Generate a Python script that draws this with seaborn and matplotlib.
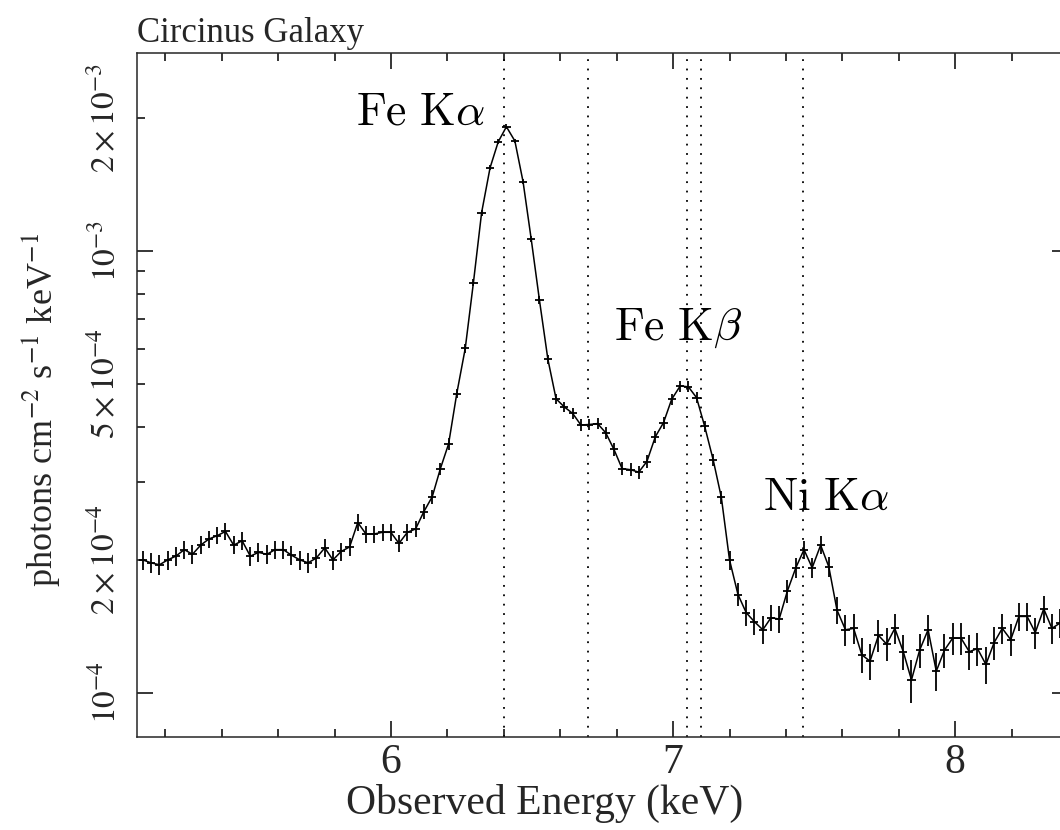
import numpy as np
import pandas as pd
import matplotlib
matplotlib.use("Agg")
import matplotlib.pyplot as plt
import seaborn as sns
from matplotlib.ticker import FixedLocator, FuncFormatter, NullFormatter

# ---------------- data (flux in units of 1e-4 photons cm^-2 s^-1 keV^-1) ----------------
energy = [5.120, 5.149, 5.179, 5.208, 5.237, 5.267, 5.296, 5.325, 5.354, 5.384,
          5.413, 5.442, 5.472, 5.501, 5.530, 5.560, 5.589, 5.618, 5.647, 5.677,
          5.706, 5.735, 5.765, 5.794, 5.823, 5.853, 5.882, 5.911, 5.940, 5.970,
          5.999, 6.028, 6.058, 6.087, 6.116, 6.146, 6.175, 6.204, 6.233, 6.263,
          6.292, 6.321, 6.351, 6.380, 6.409, 6.439, 6.468, 6.497, 6.526, 6.556,
          6.585, 6.614, 6.644, 6.673, 6.702, 6.732, 6.761, 6.790, 6.819, 6.849,
          6.878, 6.907, 6.937, 6.966, 6.995, 7.025, 7.054, 7.083, 7.112, 7.142,
          7.171, 7.200, 7.230, 7.259, 7.288, 7.318, 7.347, 7.376, 7.405, 7.435,
          7.464, 7.493, 7.523, 7.552, 7.581, 7.611, 7.640, 7.669, 7.698, 7.728,
          7.757, 7.786, 7.816, 7.845, 7.874, 7.904, 7.933, 7.962, 7.991, 8.021,
          8.050, 8.079, 8.109, 8.138, 8.167, 8.197, 8.226, 8.255, 8.284, 8.314,
          8.343, 8.372]

flux = [2.00, 1.97, 1.95, 2.00, 2.04, 2.11, 2.06, 2.16, 2.23, 2.27,
        2.32, 2.16, 2.21, 2.04, 2.08, 2.06, 2.11, 2.11, 2.05, 2.00,
        1.97, 2.02, 2.13, 2.00, 2.09, 2.14, 2.43, 2.29, 2.29, 2.31,
        2.31, 2.18, 2.31, 2.35, 2.57, 2.78, 3.22, 3.66, 4.76, 6.02,
        8.48, 12.21, 15.43, 17.67, 19.11, 17.74, 14.35, 10.63, 7.75, 5.69,
        4.63, 4.44, 4.29, 4.04, 4.05, 4.07, 3.88, 3.56, 3.22, 3.20,
        3.16, 3.34, 3.80, 4.09, 4.62, 4.95, 4.93, 4.66, 4.01, 3.37,
        2.77, 2.00, 1.67, 1.52, 1.45, 1.39, 1.48, 1.47, 1.70, 1.92,
        2.11, 1.92, 2.16, 1.93, 1.54, 1.39, 1.40, 1.22, 1.18, 1.35,
        1.29, 1.40, 1.24, 1.07, 1.25, 1.39, 1.12, 1.25, 1.33, 1.33,
        1.24, 1.26, 1.16, 1.30, 1.40, 1.32, 1.49, 1.49, 1.37, 1.55,
        1.40, 1.44]

flux_err = [0.10, 0.10, 0.10, 0.10, 0.10, 0.10, 0.10, 0.10, 0.10, 0.10,
            0.10, 0.10, 0.10, 0.10, 0.10, 0.10, 0.10, 0.10, 0.10, 0.10,
            0.10, 0.10, 0.10, 0.10, 0.10, 0.10, 0.11, 0.10, 0.10, 0.10,
            0.10, 0.10, 0.10, 0.10, 0.10, 0.10, 0.10, 0.11, 0.12, 0.13,
            0.15, 0.18, 0.20, 0.22, 0.23, 0.22, 0.20, 0.17, 0.15, 0.13,
            0.12, 0.12, 0.12, 0.12, 0.12, 0.12, 0.12, 0.12, 0.11, 0.11,
            0.11, 0.11, 0.12, 0.13, 0.13, 0.14, 0.14, 0.13, 0.12, 0.11,
            0.10, 0.10, 0.10, 0.10, 0.10, 0.10, 0.10, 0.10, 0.10, 0.10,
            0.10, 0.10, 0.10, 0.10, 0.11, 0.11, 0.11, 0.11, 0.11, 0.11,
            0.11, 0.11, 0.11, 0.12, 0.11, 0.11, 0.11, 0.11, 0.11, 0.11,
            0.11, 0.11, 0.11, 0.11, 0.11, 0.11, 0.11, 0.11, 0.11, 0.11,
            0.11, 0.11]

bin_half_width = 0.0146
line_energies = [6.40, 6.70, 7.05, 7.10, 7.46]
line_labels = [r"$\mathrm{Fe\ K}\alpha$", r"$\mathrm{Fe\ K}\beta$", r"$\mathrm{Ni\ K}\alpha$"]
label_x = [6.105, 7.018, 7.543]
label_y = [1.93e-3, 6.29e-4, 2.59e-4]

xtick_major = [6, 7, 8]
ytick_major = [1e-4, 1e-3]
ytick_minor = [2e-4, 3e-4, 4e-4, 5e-4, 6e-4, 7e-4, 8e-4, 9e-4, 2e-3]
ytick_text = {1e-4: r"$10^{-4}$", 2e-4: r"$2\times10^{-4}$", 5e-4: r"$5\times10^{-4}$",
              1e-3: r"$10^{-3}$", 2e-3: r"$2\times10^{-3}$"}

title_text = "Circinus Galaxy"
xlabel_text = "Observed Energy (keV)"
ylabel_text = r"photons cm$^{-2}$ s$^{-1}$ keV$^{-1}$"

# ---------------- style ----------------
sns.set_theme(style="ticks")
plt.rcParams["font.family"] = ["Liberation Serif", "DejaVu Serif"]
plt.rcParams["mathtext.fontset"] = "stix"
plt.rcParams["axes.linewidth"] = 1.1

df = pd.DataFrame({"energy": energy,
                   "flux": np.array(flux) * 1e-4,
                   "err": np.array(flux_err) * 1e-4})

W, H = 1060, 830
fig = plt.figure(figsize=(W / 100, H / 100), dpi=100)
left_px, right_px, top_px, bot_px = 137.2, 1068.0, 53.0, 737.0
ax = fig.add_axes([left_px / W, 1 - bot_px / H, (right_px - left_px) / W, (bot_px - top_px) / H])

sns.lineplot(data=df, x="energy", y="flux", ax=ax, color="black", linewidth=1.1,
             estimator=None, sort=False)
ax.errorbar(df["energy"], df["flux"], xerr=bin_half_width, yerr=df["err"], fmt="none",
            ecolor="black", elinewidth=1.3, capsize=0)

for e in line_energies:
    ax.axvline(e, color="black", linewidth=1.3, linestyle=(0, (1, 4.2)), zorder=1)

for t, x, y in zip(line_labels, label_x, label_y):
    ax.text(x, y, t, ha="center", va="baseline", fontsize=33, color="black",
            math_fontfamily="cm")

ax.set_yscale("log")
ax.set_xlim(5.1, 8.4)
ax.set_ylim(7.95e-5, 2.806e-3)

ax.xaxis.set_major_locator(FixedLocator(xtick_major))
ax.xaxis.set_minor_locator(FixedLocator([5.2, 5.4, 5.6, 5.8, 6.2, 6.4, 6.6, 6.8,
                                         7.2, 7.4, 7.6, 7.8, 8.2]))
ax.yaxis.set_major_locator(FixedLocator(ytick_major))
ax.yaxis.set_minor_locator(FixedLocator(ytick_minor))
fmt = FuncFormatter(lambda v, p: next((s for k, s in ytick_text.items() if abs(v - k) / k < 1e-6), ""))
ax.yaxis.set_major_formatter(fmt)
ax.yaxis.set_minor_formatter(fmt)
ax.xaxis.set_minor_formatter(NullFormatter())

ax.tick_params(axis="both", which="both", direction="in", top=True, right=True,
               color="black", width=1.1)
ax.tick_params(axis="both", which="major", length=11.5)
ax.tick_params(axis="both", which="minor", length=5.8)
ax.tick_params(axis="x", which="major", labelsize=30, pad=5)
ax.tick_params(axis="y", which="both", labelsize=24, pad=11, labelrotation=90)
for lab in ax.get_yticklabels(which="both"):
    lab.set_va("center")

ax.set_xlabel(xlabel_text, fontsize=30)
ax.set_ylabel(ylabel_text, fontsize=26)
ax.xaxis.set_label_coords(0.438, -0.069)
ax.yaxis.set_label_coords(-0.104, 0.478)
ax.xaxis.label.set_va("top")
ax.yaxis.label.set_va("center")

ax.set_title(title_text, fontsize=25, loc="left", pad=8)

ax.grid(False)
fig.savefig("out.png", dpi=100)
